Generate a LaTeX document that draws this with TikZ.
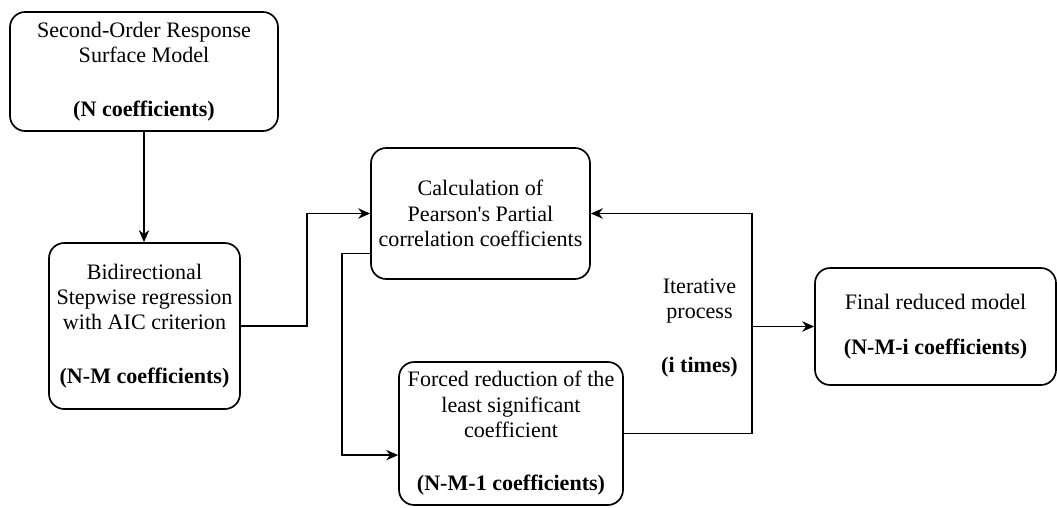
\documentclass[tikz,border=0pt]{standalone}
\usepackage{fontspec}
\setmainfont{Liberation Serif}
\usetikzlibrary{arrows.meta}

\begin{document}
\begin{tikzpicture}[
        font=\fontsize{15.7}{18}\selectfont,
        box/.style={rectangle, rounded corners=0.38cm, draw, line width=1.2pt, align=center, inner sep=0pt},
        arr/.style={-{Stealth[length=3mm, width=2.6mm]}, line width=1.2pt}
    ]
        \useasboundingbox (0,0) rectangle (26.425,-12.675);

        \node[box, minimum width=6.7cm, minimum height=2.975cm] (rsm) at (3.6,-1.7875)
            {Second-Order Response\\Surface Model\\[20pt]\textbf{(N coefficients)}};
        \node[box, minimum width=4.775cm, minimum height=4.15cm] (stepwise) at (3.6125,-8.15)
            {Bidirectional\\Stepwise regression\\with AIC criterion\\[20pt]\textbf{(N-M coefficients)}};
        \node[box, minimum width=5.475cm, minimum height=3.275cm] (pearson) at (12.0125,-5.3375)
            {Calculation of\\Pearson\textquotesingle s Partial\\correlation coefficients};
        \node[box, minimum width=5.6cm, minimum height=3.575cm] (forced) at (12.775,-10.8375)
            {Forced reduction of the\\least significant\\coefficient\\[20pt]\textbf{(N-M-1 coefficients)}};
        \node[box, minimum width=6.025cm, minimum height=2.925cm] (final) at (23.3875,-8.1625)
            {Final reduced model\\[14pt]\textbf{(N-M-i coefficients)}};

        \node[align=center] (iter) at (17.4875,-8.2) {Iterative\\process\\[20pt]\textbf{(i times)}};

        \draw[arr] (rsm.south) -- (rsm.south |- stepwise.north);
        \draw[arr] (stepwise.east) -- ++(1.65,0) |- (pearson.west);
        \draw[arr] ([yshift=-1cm]pearson.west) -- ++(-0.7,0) |- ([yshift=-0.54cm]forced.west);
        \draw[arr] (forced.east) -- ++(3.2,0) |- (pearson.east);

        \coordinate (split) at (18.775,-8.1625);
        \draw[arr] (split) -- (final.west);
    \end{tikzpicture}
\end{document}
